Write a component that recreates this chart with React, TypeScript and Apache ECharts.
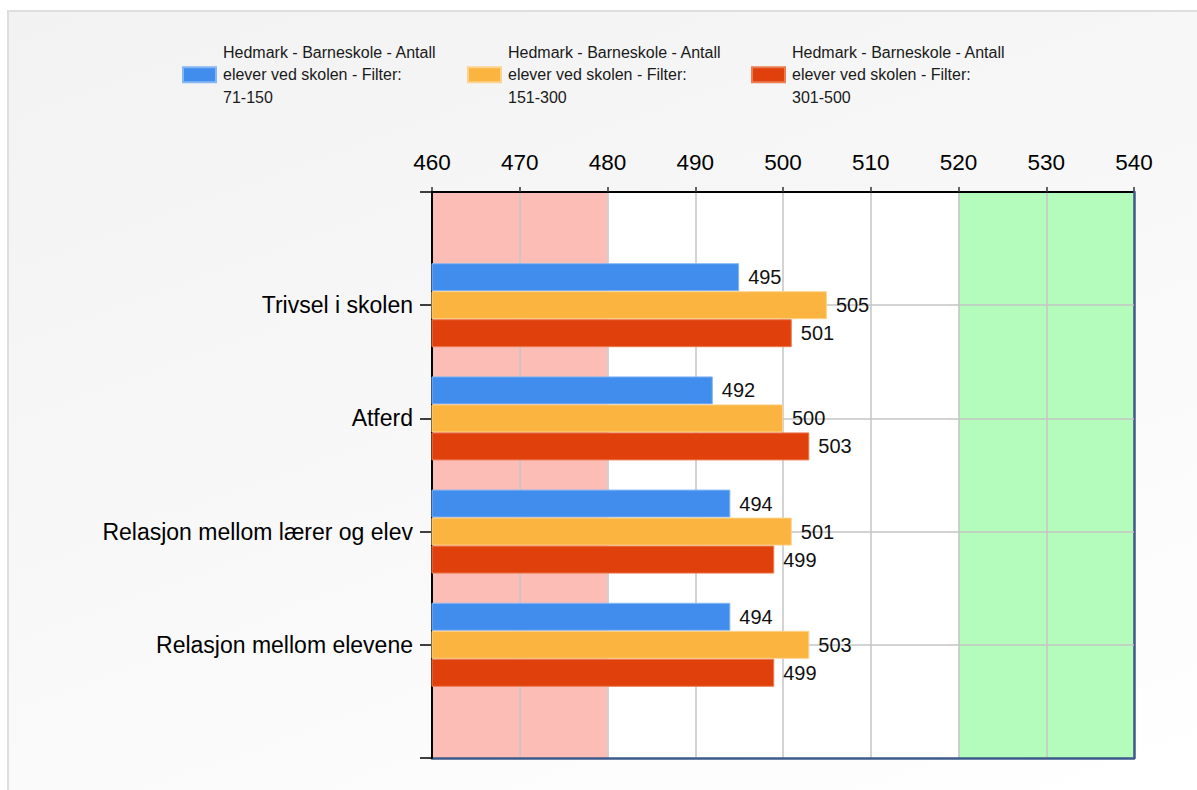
import React, { useEffect, useRef } from "react";
import * as echarts from "echarts";

const categories = [
  "Trivsel i skolen",
  "Atferd",
  "Relasjon mellom lærer og elev",
  "Relasjon mellom elevene",
];
const seriesNames = [
  "Hedmark - Barneskole - Antall\nelever ved skolen - Filter:\n71-150",
  "Hedmark - Barneskole - Antall\nelever ved skolen - Filter:\n151-300",
  "Hedmark - Barneskole - Antall\nelever ved skolen - Filter:\n301-500",
];
const values71to150 = [495, 492, 494, 494];
const values151to300 = [505, 500, 501, 503];
const values301to500 = [501, 503, 499, 499];
const xTicks = { min: 460, max: 540, interval: 10 };

const colors = ["#418ded", "#fab43f", "#df400c"];
const borderColors = ["#86b6f4", "#fdd28c", "#ec7c52"];
const FONT = "'Liberation Sans', Arial, sans-serif";
const BORDER_BLUE = "#3c5a8a";

export default function App() {
  const ref = useRef<HTMLDivElement>(null);
  useEffect(() => {
    if (!ref.current) return;
    const chart = echarts.init(ref.current, undefined, { renderer: "svg" });
    const yData = ["", ...categories, ""];
    const pad = (arr: number[]) => [null, ...arr, null];
    const allValues = [values71to150, values151to300, values301to500];
    const legendLefts = [173, 458, 742];
    const hidden = {
      axisLabel: { show: false },
      axisTick: { show: false },
      splitLine: { show: false },
      splitArea: { show: false },
    };
    chart.setOption({
      animation: false,
      textStyle: { fontFamily: FONT },
      legend: seriesNames.map((name, i) => ({
        data: [name],
        left: legendLefts[i],
        top: 29,
        padding: 0,
        icon: "rect",
        itemWidth: 33,
        itemHeight: 15,
        selectedMode: false,
        textStyle: {
          fontFamily: FONT,
          fontSize: 16,
          lineHeight: 22.5,
          color: "#1a1a1a",
          padding: [0, 0, 0, 2],
        },
      })),
      grid: {
        left: 423,
        top: 180,
        width: 702,
        height: 566,
        show: true,
        backgroundColor: "#ffffff",
        borderWidth: 0,
      },
      xAxis: [
        {
          type: "value",
          position: "top",
          min: xTicks.min,
          max: xTicks.max,
          interval: xTicks.interval,
          axisLine: { show: true, lineStyle: { color: "#000", width: 2 } },
          axisTick: { show: true, length: 5, lineStyle: { color: "#333", width: 1.5 } },
          axisLabel: { fontSize: 22.5, color: "#000", margin: 18, fontFamily: FONT },
          splitLine: { show: true, lineStyle: { color: "#c4c4c4", width: 1.5 } },
          splitArea: {
            show: true,
            areaStyle: {
              color: [
                "#fbbdb6",
                "#fbbdb6",
                "#ffffff",
                "#ffffff",
                "#ffffff",
                "#ffffff",
                "#b4fcbb",
                "#b4fcbb",
              ],
            },
          },
        },
        {
          type: "value",
          position: "bottom",
          min: xTicks.min,
          max: xTicks.max,
          interval: xTicks.interval,
          z: 2,
          axisLine: { show: true, lineStyle: { color: BORDER_BLUE, width: 2.5 } },
          ...hidden,
        },
      ],
      yAxis: [
        {
          type: "category",
          inverse: true,
          boundaryGap: false,
          data: yData,
          z: 3,
          axisLine: { show: true, lineStyle: { color: "#000", width: 2 } },
          axisTick: { show: true, length: 12, lineStyle: { color: "#000", width: 1.5 } },
          axisLabel: { fontSize: 23, color: "#000", margin: 19, fontFamily: FONT },
          splitLine: {
            show: true,
            interval: (idx: number) => idx > 0 && idx < yData.length - 1,
            lineStyle: { color: "#c4c4c4", width: 1.5 },
          },
        },
        {
          type: "category",
          inverse: true,
          boundaryGap: false,
          position: "right",
          data: yData,
          z: 2,
          axisLine: { show: true, lineStyle: { color: BORDER_BLUE, width: 2.5 } },
          ...hidden,
        },
      ],
      series: allValues.map((vals, i) => ({
        type: "bar",
        name: seriesNames[i],
        data: pad(vals),
        xAxisIndex: 0,
        yAxisIndex: 0,
        barWidth: 28,
        barGap: "0%",
        z: 4,
        itemStyle: { color: colors[i], borderColor: borderColors[i], borderWidth: 1 },
        label: {
          show: true,
          position: "right",
          distance: 9,
          fontSize: 20,
          color: "#111",
          fontFamily: FONT,
        },
      })),
    });
    return () => chart.dispose();
  }, []);

  return (
    <div
      style={{
        position: "fixed",
        left: 7,
        top: 10,
        right: 0,
        bottom: 0,
        boxSizing: "border-box",
        borderTop: "2px solid #dedede",
        borderLeft: "2px solid #dedede",
        background: "linear-gradient(160deg, #f2f2f2 0%, #f8f8f8 50%, #ffffff 100%)",
      }}
    >
      <div ref={ref} style={{ width: 1188, height: 778 }} />
    </div>
  );
}
